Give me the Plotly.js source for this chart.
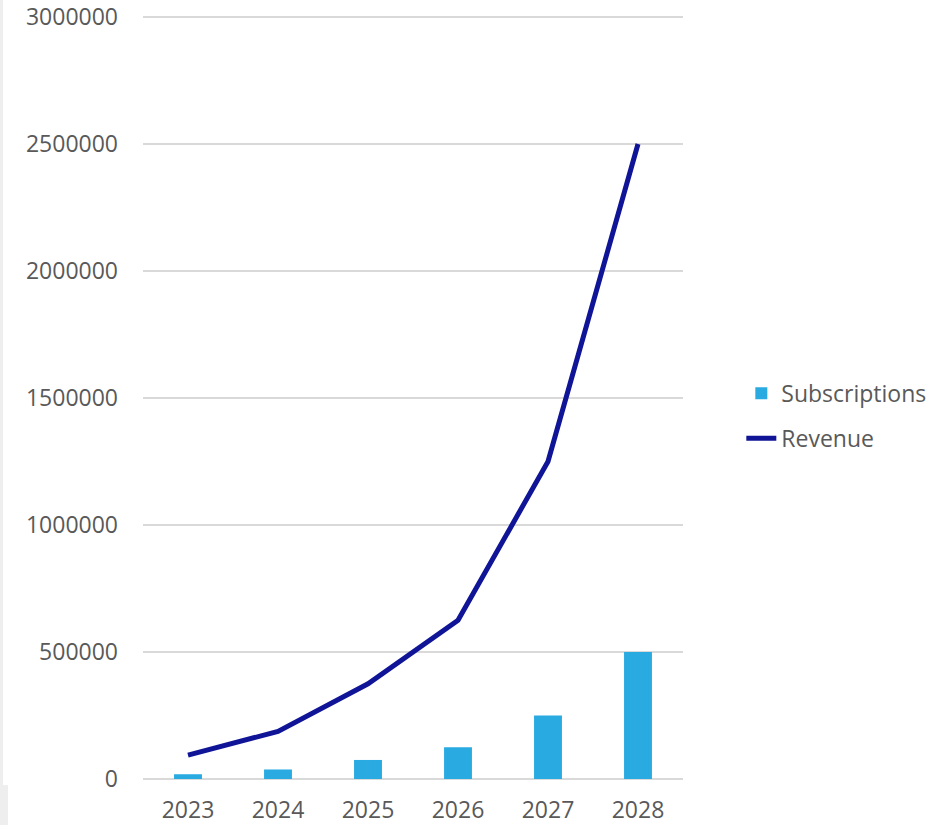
<!DOCTYPE html>
<html>
<head>
<meta charset="utf-8">
<script src="https://cdn.plot.ly/plotly-3.0.1.min.js"></script>
<style>html,body{margin:0;padding:0;background:#fff;}#chart{width:935px;height:825px;}</style>
</head>
<body>
<div id="chart"></div>
<script>
var years = ['2023', '2024', '2025', '2026', '2027', '2028'];
var subscriptions = [18750, 37500, 75000, 125000, 250000, 500000];
var revenue = [93750, 187500, 375000, 625000, 1250000, 2500000];
var yTicks = [0, 500000, 1000000, 1500000, 2000000, 2500000, 3000000];

var traces = [
  {
    type: 'bar', name: 'Subscriptions', x: years, y: subscriptions,
    marker: {color: '#29abe2'}, width: 0.31, legendgroup: 'a'
  },
  {
    type: 'scatter', mode: 'lines', name: 'Revenue', x: years, y: revenue,
    line: {color: '#0f1596', width: 5}, legendgroup: 'b'
  }
];

var layout = {
  width: 935, height: 825,
  margin: {l: 143, r: 252, t: 16, b: 46, autoexpand: false},
  paper_bgcolor: '#ffffff', plot_bgcolor: '#ffffff',
  font: {family: 'Open Sans, Calibri, sans-serif', size: 23, color: '#595959'},
  showlegend: true,
  legend: {x: 1.108, y: 0.476, xanchor: 'left', yanchor: 'middle', tracegroupgap: 12,
           font: {size: 23, color: '#595959'}, bgcolor: 'rgba(0,0,0,0)'},
  xaxis: {type: 'category', showgrid: false, zeroline: false, showline: false, automargin: false,
          ticks: '', ticklabelstandoff: 15, tickfont: {size: 23, color: '#595959'}},
  yaxis: {range: [0, 3004000], tickvals: yTicks, ticktext: yTicks.map(String), automargin: false,
          ticklabeloverflow: 'allow',
          showgrid: true, gridcolor: '#d9d9d9', gridwidth: 1.5, zeroline: true,
          zerolinecolor: '#d9d9d9', zerolinewidth: 1.5, showline: false,
          ticks: '', ticklabelstandoff: 24, tickfont: {size: 23, color: '#595959'}},
  shapes: [
    {type: 'rect', xref: 'paper', yref: 'paper', x0: -0.2648, x1: -0.2593, y0: -0.008, y1: 1.03,
     fillcolor: '#eeeeee', line: {width: 0}, layer: 'below'},
    {type: 'rect', xref: 'paper', yref: 'paper', x0: -0.2648, x1: -0.25, y0: -0.07, y1: -0.008,
     fillcolor: '#eeeeee', line: {width: 0}, layer: 'below'}
  ]
};

Plotly.newPlot('chart', traces, layout, {displayModeBar: false});
</script>
</body>
</html>
